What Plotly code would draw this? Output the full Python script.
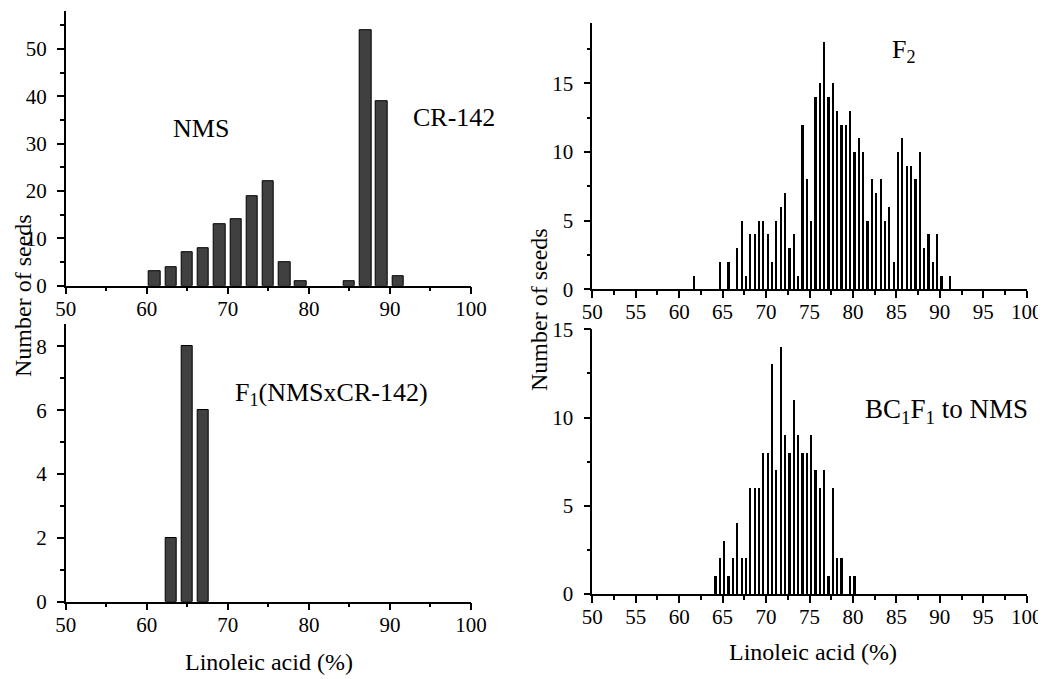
import plotly.graph_objects as go

# parents (NMS and CR-142), 2-unit classes
par_x = [61, 63, 65, 67, 69, 71, 73, 75, 77, 79, 85, 87, 89, 91]
par_n = [3, 4, 7, 8, 13, 14, 19, 22, 5, 1, 1, 54, 39, 2]

# F1 (NMSxCR-142)
f1_x = [63, 65, 67]
f1_n = [2, 8, 6]

# F2, 0.5-unit classes
f2_x = [61.75, 64.75, 65.75, 66.75, 67.25, 67.75, 68.25, 68.75, 69.25, 69.75,
        70.25, 70.75, 71.25, 71.75, 72.25, 72.75, 73.25, 73.75, 74.25, 74.75,
        75.25, 75.75, 76.25, 76.75, 77.25, 77.75, 78.25, 78.75, 79.25, 79.75,
        80.25, 80.75, 81.25, 81.75, 82.25, 82.75, 83.25, 83.75, 84.25, 84.75,
        85.25, 85.75, 86.25, 86.75, 87.25, 87.75, 88.25, 88.75, 89.25, 89.75,
        90.25, 91.25]
f2_n = [1, 2, 2, 3, 5, 1, 4, 4, 5, 5,
        4, 2, 5, 6, 7, 3, 4, 1, 12, 8,
        5, 14, 15, 18, 14, 15, 13, 12, 12, 13,
        10, 11, 10, 5, 8, 7, 8, 5, 6, 2,
        10, 11, 9, 9, 8, 10, 3, 4, 2, 4,
        1, 1]

# BC1F1 to NMS
bc_x = [64.25, 64.75, 65.25, 65.75, 66.25, 66.75, 67.25, 67.75, 68.25, 68.75,
        69.25, 69.75, 70.25, 70.75, 71.25, 71.75, 72.25, 72.75, 73.25, 73.75,
        74.25, 74.75, 75.25, 75.75, 76.25, 76.75, 77.25, 77.75, 78.25, 78.75,
        79.75, 80.25]
bc_n = [1, 2, 3, 1, 2, 4, 2, 2, 6, 6,
        6, 8, 8, 13, 7, 14, 9, 8, 11, 9,
        8, 8, 9, 7, 6, 7, 1, 6, 2, 2,
        1, 1]

FONT = "Liberation Serif"
OFF = 8  # page body margin
W, H = 1046 - OFF, 679 - OFF

fig = go.Figure()
fig.add_trace(go.Bar(x=par_x, y=par_n, width=1.4, marker=dict(color="#404040", line=dict(color="black", width=1)),
                     xaxis="x", yaxis="y"))
fig.add_trace(go.Bar(x=f1_x, y=f1_n, width=1.4, marker=dict(color="#404040", line=dict(color="black", width=1)),
                     xaxis="x2", yaxis="y2"))
fig.add_trace(go.Bar(x=f2_x, y=f2_n, width=0.2, marker=dict(color="black", line=dict(width=0)),
                     xaxis="x3", yaxis="y3"))
fig.add_trace(go.Bar(x=bc_x, y=bc_n, width=0.2, marker=dict(color="black", line=dict(width=0)),
                     xaxis="x4", yaxis="y4"))


# positions below are measured in the 1046x679 reference, shifted by the page margin
def px_x(p):
    return (p - OFF) / W


def px_y(p):
    return 1 - (p - OFF) / H


def xax(domain, anchor, major, minor):
    return dict(domain=domain, anchor=anchor, range=[50, 100], dtick=major, tick0=50,
                showline=True, linecolor="black", linewidth=1.5, ticks="outside", ticklen=7,
                tickwidth=1.5, tickcolor="black", showgrid=False, zeroline=False, automargin=False,
                ticklabelstandoff=-4,
                minor=dict(ticks="outside", dtick=minor, ticklen=4, tickwidth=1.5, tickcolor="black"),
                tickfont=dict(family=FONT, size=21, color="black"))


def yax(domain, anchor, rng, major, minor):
    return dict(domain=domain, anchor=anchor, range=rng, dtick=major, tick0=0,
                showline=True, linecolor="black", linewidth=1.5, ticks="outside", ticklen=7,
                tickwidth=1.5, tickcolor="black", showgrid=False, zeroline=False, automargin=False,
                ticklabelstandoff=6,
                minor=dict(ticks="outside", dtick=minor, ticklen=4, tickwidth=1.5, tickcolor="black"),
                tickfont=dict(family=FONT, size=21, color="black"))


left_dom = [px_x(65.7), px_x(471)]
right_dom = [px_x(592.3), px_x(1026.7)]

fig.update_layout(
    width=W, height=H, margin=dict(l=0, r=0, t=0, b=0, autoexpand=False),
    paper_bgcolor="white", plot_bgcolor="white", showlegend=False, bargap=0,
    font=dict(family=FONT, color="black"),
    xaxis=xax(left_dom, "y", 10, 5),
    yaxis=yax([px_y(285.7), px_y(11.2)], "x", [0, 58], 10, 5),
    xaxis2=xax(left_dom, "y2", 10, 5),
    yaxis2=yax([px_y(601.7), px_y(324)], "x2", [0, 8.7], 2, 1),
    xaxis3=xax(right_dom, "y3", 5, 2.5),
    yaxis3=yax([px_y(289.3), px_y(23)], "x3", [0, 19.4], 5, 2.5),
    xaxis4=xax(right_dom, "y4", 5, 2.5),
    yaxis4=yax([px_y(594), px_y(329.3)], "x4", [0, 15], 5, 2.5),
)

lab = dict(family=FONT, size=26, color="black")
fig.add_annotation(text="NMS", x=66.7, y=33.3, xref="x", yref="y", showarrow=False, font=lab)
fig.add_annotation(text="CR-142", x=97.9, y=35.5, xref="x", yref="y", showarrow=False, font=lab)
fig.add_annotation(text="F<sub>1</sub>(NMSxCR-142)", x=70.65, y=6.52, xref="x2", yref="y2",
                   xanchor="left", showarrow=False, font=lab)
fig.add_annotation(text="F<sub>2</sub>", x=84.27, y=17.35, xref="x3", yref="y3",
                   xanchor="left", showarrow=False, font=lab)
fig.add_annotation(text="BC<sub>1</sub>F<sub>1</sub> to NMS", x=81.16, y=10.35, xref="x4", yref="y4",
                   xanchor="left", showarrow=False, font=dict(family=FONT, size=27, color="black"))

tit = dict(family=FONT, size=24, color="black")
fig.add_annotation(text="Linoleic acid (%)", x=px_x(268.5), y=px_y(662), xref="paper", yref="paper",
                   xanchor="center", yanchor="middle", showarrow=False, font=tit)
fig.add_annotation(text="Linoleic acid (%)", x=px_x(813), y=px_y(652), xref="paper", yref="paper",
                   xanchor="center", yanchor="middle", showarrow=False, font=tit)
fig.add_annotation(text="Number of seeds", x=px_x(23), y=px_y(296), xref="paper", yref="paper",
                   xanchor="center", yanchor="middle", textangle=-90, showarrow=False, font=tit)
fig.add_annotation(text="Number of seeds", x=px_x(539), y=px_y(310), xref="paper", yref="paper",
                   xanchor="center", yanchor="middle", textangle=-90, showarrow=False, font=tit)

fig.write_html("out.html")
